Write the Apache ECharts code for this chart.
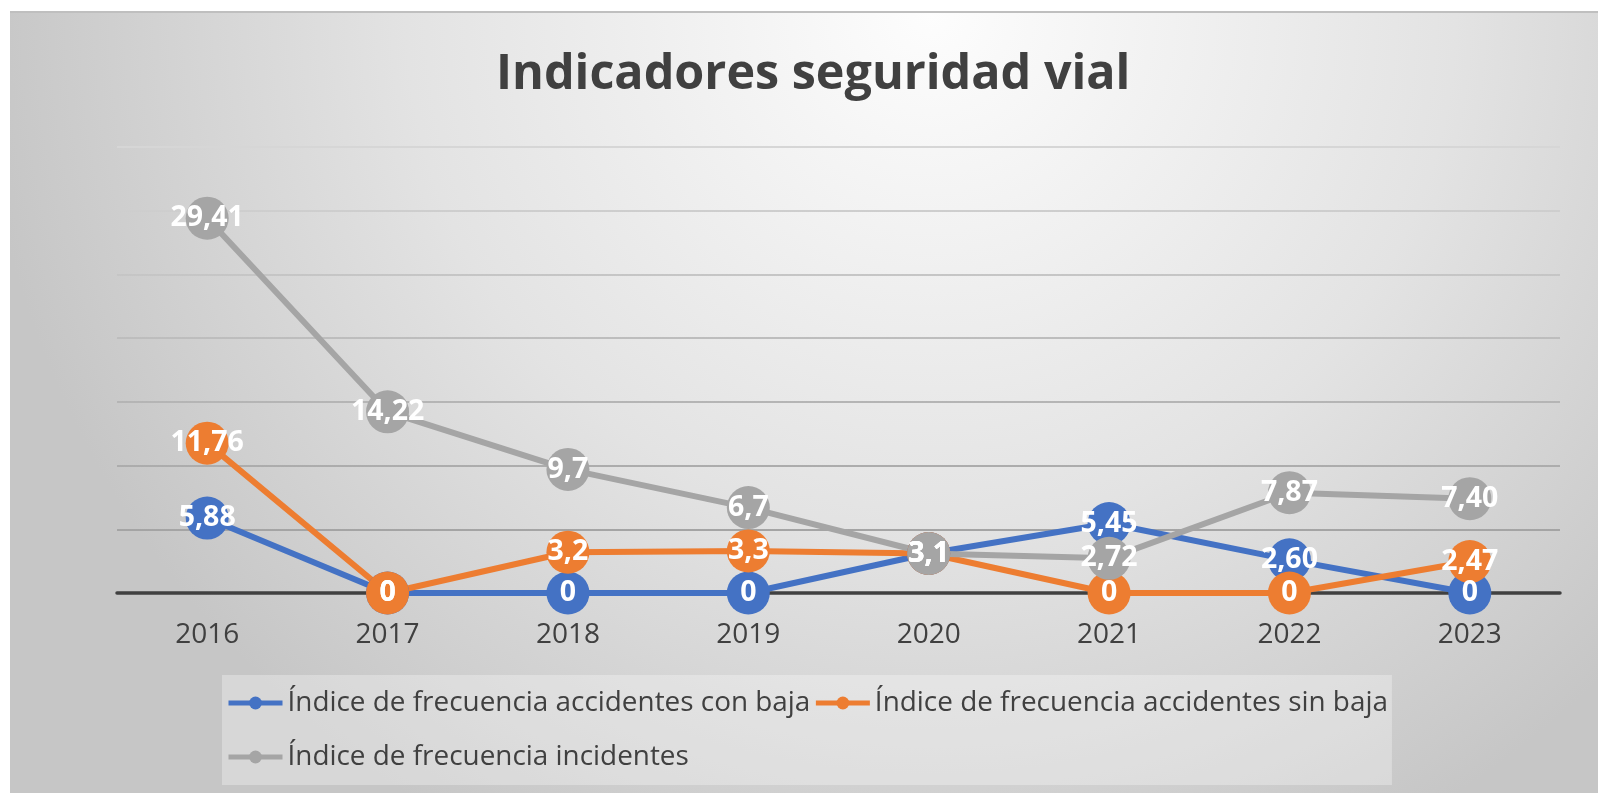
<!DOCTYPE html>
<html>
<head>
<meta charset="utf-8">
<title>Indicadores seguridad vial</title>
<script src="https://cdn.jsdelivr.net/npm/echarts@6/dist/echarts.min.js"></script>
<style>
    html, body { margin: 0; padding: 0; background: #fff; }
    #chart {
        position: absolute; left: 10px; top: 11px;
        width: 1588px; height: 780px;
        border-top: 2px solid #bfbfbf;
        background: radial-gradient(ellipse 60% 120% at 58% 0%, #fdfdfd 0%, #e3e3e3 55%, #c6c6c6 100%);
    }
</style>
</head>
<body>
<div id="chart"></div>
<script>
const years = ['2016', '2017', '2018', '2019', '2020', '2021', '2022', '2023'];
// valores tal como aparecen en las etiquetas
const conBaja = ['5.88', '0', '0', '0', '3.1', '5.45', '2.60', '0'];
const sinBaja = ['11.76', '0', '3.2', '3.3', '3.1', '0', '0', '2.47'];
const incidentes = ['29.41', '14.22', '9.7', '6.7', '3.1', '2.72', '7.87', '7.40'];
const seriesNames = [
    'Índice de frecuencia accidentes con baja',
    'Índice de frecuencia accidentes sin baja',
    'Índice de frecuencia incidentes'
];
const colors = ['#4472C4', '#ED7D31', '#A5A5A5'];

const font = 'Open Sans';
const chart = echarts.init(document.getElementById('chart'));

const makeSeries = (i, values) => ({
    name: seriesNames[i],
    type: 'line',
    data: values.map(Number),
    symbol: 'circle',
    symbolSize: 43,
    itemStyle: {color: colors[i], borderWidth: 0},
    lineStyle: {color: colors[i], width: 6},
    label: {
        show: true,
        position: 'inside',
        color: '#fff',
        fontFamily: font,
        fontWeight: 'bold',
        fontSize: 28.5,
        formatter: p => values[p.dataIndex].replace('.', ',')
    },
    emphasis: {disabled: true}
});

const option = {
    animation: false,
    title: {
        text: 'Indicadores seguridad vial',
        left: 481,
        top: 27,
        padding: [5, 5],
        textStyle: {
            color: '#404040',
            fontFamily: font,
            fontWeight: 'bold',
            fontSize: 48.5,
            lineHeight: 60
        }
    },
    legend: {
        data: seriesNames,
        left: 212,
        top: 662,
        width: 1260,
        padding: [2.5, 4],
        itemGap: 3,
        itemWidth: 54,
        itemHeight: 16,
        lineStyle: {width: 5},
        backgroundColor: 'rgba(255,255,255,0.3)',
        textStyle: {color: '#404040', fontFamily: font, fontSize: 27.9, lineHeight: 51}
    },
    grid: {left: 107, right: 38, top: 134, bottom: 200},
    xAxis: {
        type: 'category',
        data: years,
        boundaryGap: true,
        axisTick: {show: false},
        axisLine: {lineStyle: {color: '#404040', width: 3.5}},
        axisLabel: {color: '#404040', fontFamily: font, fontSize: 28, lineHeight: 28, margin: 28}
    },
    yAxis: {
        type: 'value',
        min: 0,
        max: 35,
        interval: 5,
        axisLabel: {show: false},
        axisLine: {show: false},
        axisTick: {show: false},
        splitLine: {
            lineStyle: {
                width: 2,
                color: {
                    type: 'linear', global: true,
                    x: 0, y: 134, x2: 0, y2: 580,
                    colorStops: [{offset: 0, color: '#d6d6d6'}, {offset: 1, color: '#9c9c9c'}]
                }
            }
        }
    },
    series: [
        makeSeries(0, conBaja),
        makeSeries(1, sinBaja),
        makeSeries(2, incidentes)
    ]
};
chart.setOption(option);
</script>
</body>
</html>
